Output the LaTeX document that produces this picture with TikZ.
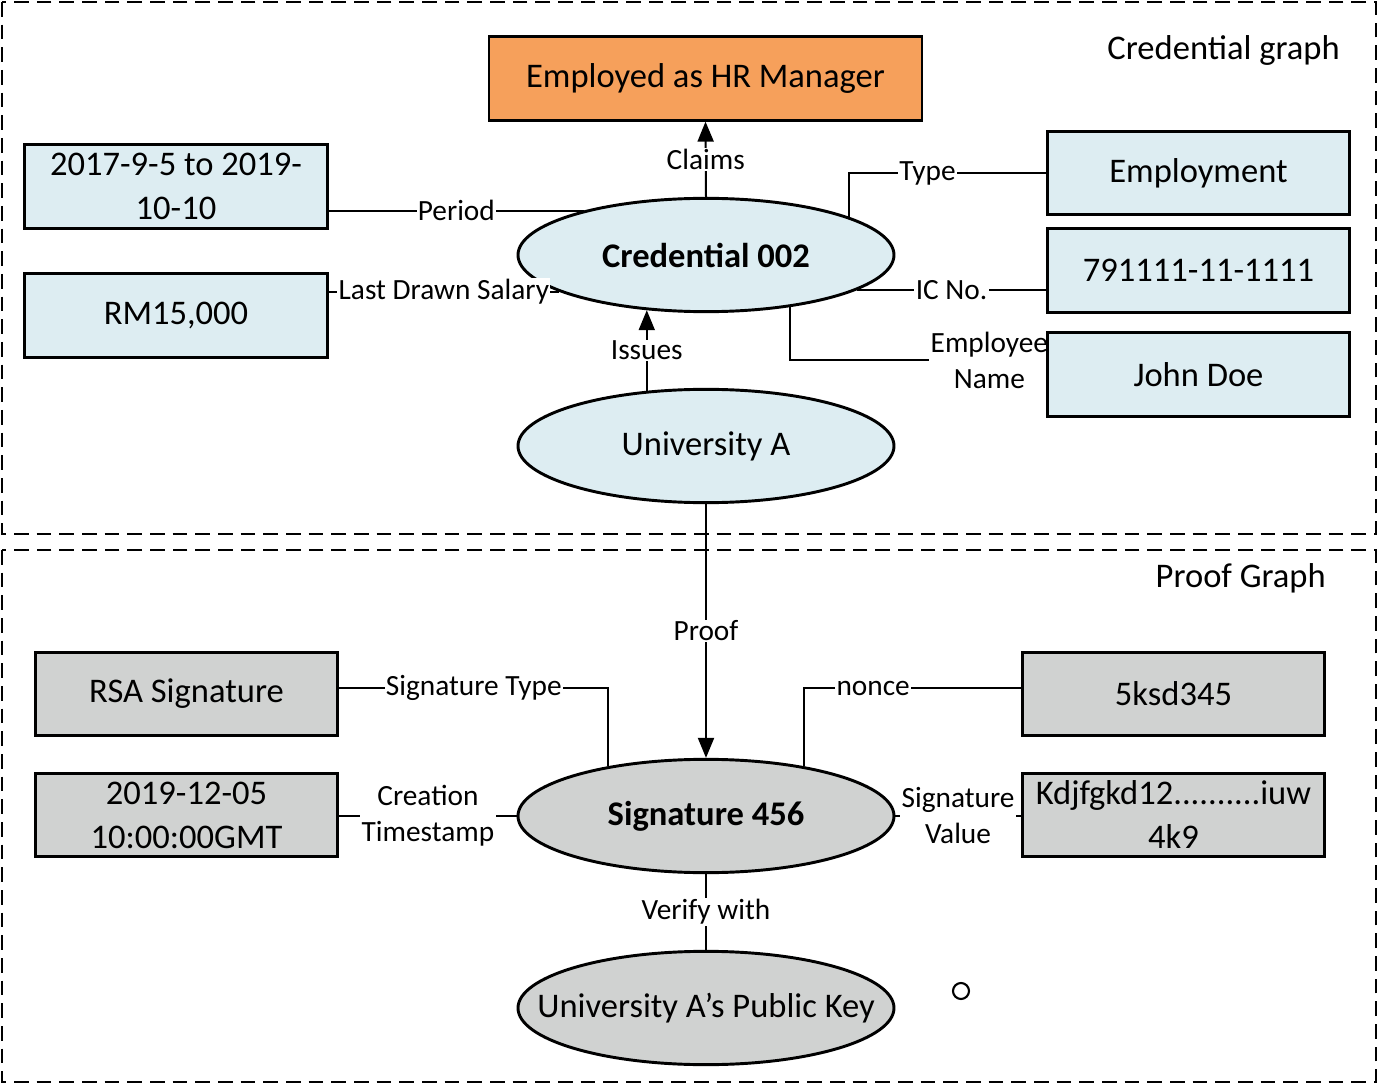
\documentclass[tikz,border=0pt]{standalone}
\usepackage{fontspec}
\setmainfont{Carlito}
\usetikzlibrary{arrows.meta,shapes.geometric}
\pgfdeclarelayer{bg}
\pgfsetlayers{bg,main}
\definecolor{lblue}{HTML}{DDEDF2}
\definecolor{lgray}{HTML}{D0D2D1}
\definecolor{orng}{HTML}{F6A05B}
\newcommand\bigtxt{\fontsize{25.9}{33}\selectfont}
\newcommand\labtxt{\fontsize{22}{27}\selectfont}
\begin{document}
\begin{tikzpicture}[x=0.75pt,y=-0.75pt,
  boxnode/.style={draw, line width=2.2pt, minimum width=227pt, minimum height=62.5pt, align=center, font=\bigtxt, inner sep=0pt},
  bluebox/.style={boxnode, fill=lblue},
  graybox/.style={boxnode, fill=lgray},
  ellip/.style={ellipse, draw, line width=2.2pt, minimum width=282pt, minimum height=85pt, inner sep=0pt},
  conn/.style={line width=1.5pt},
  lab/.style={fill=white, font=\labtxt, inner sep=1pt, align=center},
  arr/.style={-{Triangle[length=15pt,width=12pt]}},
  frame/.style={line width=2.2pt, dash pattern=on 11pt off 6pt},
  ttl/.style={font=\bigtxt, anchor=east, inner sep=0pt}]
\useasboundingbox (0,0) rectangle (1379,1084);

% frames
\draw[frame] (2,2) rectangle (1376,534);
\draw[frame] (2,550) rectangle (1376,1082);
\node[ttl] (t1) at (1340,50) {Credential graph};
\node[ttl] (t2) at (1326,578) {Proof Graph};

% credential graph nodes
\node[boxnode, fill=orng, minimum width=324.75pt] (hr) at (705.5,78.5) {Employed as HR Manager};
\node[bluebox] (period) at (176,186.5) {2017-9-5 to 2019-\\10-10};
\node[bluebox] (salary) at (176,315.5) {RM15,000};
\node[bluebox] (emp) at (1198.5,173) {Employment};
\node[bluebox] (ic) at (1198.5,270.5) {791111-11-1111};
\node[bluebox] (john) at (1198.5,374.5) {John Doe};
\node[ellip, fill=lblue, label={[font=\bigtxt\bfseries]center:Credential 002}] (cred) at (706,255) {};
\node[ellip, fill=lblue, label={[font=\bigtxt]center:University A}] (univ) at (706,446) {};

% proof graph nodes
\node[graybox] (rsa) at (186.5,694) {RSA Signature};
\node[graybox] (ts) at (186.5,815) {2019-12-05\\10:00:00GMT};
\node[graybox] (nonce) at (1173.5,694) {5ksd345};
\node[graybox] (sv) at (1173.5,815) {Kdjfgkd12..........iuw\\4k9};
\node[ellip, fill=lgray, label={[font=\bigtxt\bfseries]center:Signature 456}] (sig) at (706,816) {};
\node[ellip, fill=lgray, label={[font=\bigtxt]center:University A’s Public Key}] (pk) at (706,1008) {};
\node[circle, draw, line width=1.6pt, minimum size=12pt, inner sep=0pt] (dot) at (961,991) {};

\coordinate (eny) at (0,360);
\coordinate (sty) at (0,688);

\begin{pgfonlayer}{bg}
\draw[conn,arr] (cred.north) -- node[lab]{Claims} (hr.south);
\draw[conn] (period.east |- cred.160.7) -- node[lab]{Period} (cred.160.7);
\draw[conn] (cred.15.4) |- node[lab,pos=0.7]{Type} (emp.west);
\draw[conn] (cred.-13.3) -- node[lab]{IC No.} (ic.west |- cred.-13.3);
\draw[conn] (cred.-32.8) |- node[lab,pos=0.89]{Employee\\Name} (john.west |- eny);
\draw[conn,arr] (univ.137.4) -- node[lab]{Issues} (univ.137.4 |- cred.223.1);
\draw[conn,arr] (univ.south) -- node[lab]{Proof} (sig.north);
\draw[conn] (sig.153.3) |- node[lab,pos=0.75]{Signature Type} (rsa.east |- sty);
\draw[conn] (sig.27.3) |- node[lab,pos=0.66]{nonce} (nonce.west |- sty);
\draw[conn] (ts.east |- sig.west) -- node[lab]{Creation\\Timestamp} (sig.west);
\draw[conn] (sig.east) -- node[lab]{Signature\\Value} (sv.west |- sig.east);
\draw[conn] (sig.south) -- node[lab]{Verify with} (pk.north);
\end{pgfonlayer}
\draw[conn] (salary.east |- cred.194.5) -- node[lab]{Last Drawn Salary} (cred.194.5);
\end{tikzpicture}
\end{document}
